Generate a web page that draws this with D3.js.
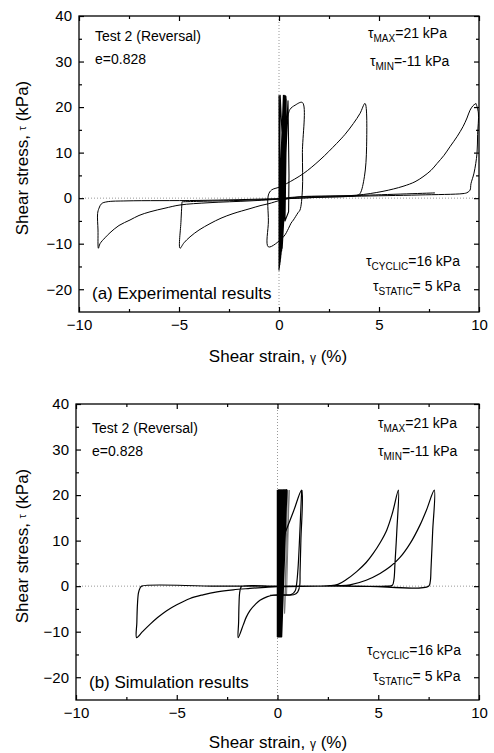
<!DOCTYPE html>
<html>
<head>
<meta charset="utf-8">
<script src="https://cdn.jsdelivr.net/npm/d3@7"></script>
<style>
  body { margin: 0; background: #fff; }
  text { font-family: Arial, "Liberation Sans", sans-serif; fill: #000; }
</style>
</head>
<body>
<svg id="chart" width="494" height="753"></svg>
<script>
// axis ticks
const xTicks = [-10, -5, 0, 5, 10];
const xMinor = [-7.5, -2.5, 2.5, 7.5];
const yTicks = [-20, -10, 0, 10, 20, 30, 40];
const yMinor = [-15, -5, 5, 15, 25, 35];

// (a) experimental: [strain %, stress kPa]
const expBand = [
  [0.00, 22.6], [0.00, -15.8], [0.15, 0], [0.22, 22.6], [0.02, 0], [0.02, -15.2],
  [0.18, 0], [0.26, 22.6], [0.04, 0], [0.04, -14.6], [0.22, 0], [0.30, 22.5],
  [0.06, 0], [0.06, -14.0], [0.26, 0], [0.33, 22.5], [0.08, 0], [0.08, -13.2],
  [0.29, 0], [0.35, 22.3], [0.10, 0], [0.10, -12.4], [0.31, 0], [0.33, 22.0],
  [0.12, 0], [0.13, -11.6], [0.32, 0], [0.36, 21.8], [0.14, 0], [0.16, -11.0],
  [0.30, 0], [0.06, 22.6], [0.03, 0], [0.05, -12.0], [0.25, 5], [0.45, 21.4],
  [0.50, 5], [0.48, -3.0], [0.30, -5.0], [0.35, 10], [0.42, 17.5]
];
const expLoopSmall = [
  [0.42, 17.5], [0.55, 19.5], [0.80, 20.4], [1.17, 21.0], [1.17, 10.0], [1.17, 1.8],
  [1.05, -2.6], [0.95, -3.2], [0.72, -4.8], [0.60, -5.5], [0.47, -6.7], [0.22, -8.5],
  [-0.53, -10.7], [-0.53, -5.0], [-0.53, 0.7], [-0.37, 1.8], [0.00, 2.4], [0.38, 3.2],
  [1.22, 5.4], [2.05, 8.4], [2.88, 12.0], [3.30, 14.0], [3.72, 16.4], [4.05, 18.6],
  [4.30, 20.8], [4.38, 11.3], [4.27, 4.7], [4.05, 1.0], [3.90, 0.6], [2.00, 0.2],
  [0.00, -0.2], [-2.00, -0.5], [-4.00, -0.7], [-4.85, -0.8]
];
const expLoopMid = [
  [-4.85, -0.8], [-4.90, -5.0], [-4.95, -11.0], [-4.75, -9.8], [-4.45, -8.5],
  [-4.00, -7.0], [-3.45, -5.6], [-2.90, -4.4], [-2.30, -3.4], [-1.45, -2.3],
  [-0.90, -1.6], [-0.50, -1.2], [0.05, -0.5], [1.05, 0.3], [2.50, 0.45], [3.90, 0.66],
  [5.20, 1.5], [6.20, 2.6], [6.80, 3.6], [7.20, 4.7], [7.60, 6.1], [7.90, 7.6],
  [8.25, 9.4], [8.55, 11.3], [8.90, 13.5], [9.20, 15.7], [9.40, 17.6], [9.55, 19.3],
  [9.70, 20.3], [9.85, 20.8]
];
const expLoopBig = [
  [9.85, 20.8], [9.97, 18.7], [9.93, 14.0], [9.90, 9.8], [9.75, 5.5], [9.60, 3.2],
  [9.55, 1.75], [9.40, 1.2], [9.20, 1.0], [7.00, 0.7], [3.70, 0.4], [0.00, -0.1],
  [-4.00, -0.5], [-7.60, -0.6], [-8.60, -0.8], [-8.87, -1.2], [-9.00, -2.2],
  [-9.07, -3.4], [-9.05, -7.0], [-9.03, -11.0], [-8.95, -10.0], [-8.70, -8.7],
  [-8.45, -7.6], [-8.00, -6.0], [-7.45, -4.8], [-7.00, -3.8], [-6.45, -3.0],
  [-5.70, -2.2], [-4.95, -1.5], [-3.50, -1.0], [-1.45, -0.6], [0.00, -0.2],
  [0.55, 0.15], [4.00, 0.6], [7.80, 1.15]
];

// (b) simulation
const simBand = [
  [0.00, 21.1], [0.00, -11.1], [0.04, 21.1], [0.01, -11.1], [0.08, 21.1], [0.02, -11.1],
  [0.12, 21.1], [0.03, -11.1], [0.16, 21.1], [0.04, -11.1], [0.20, 21.1], [0.05, -11.1],
  [0.24, 21.1], [0.06, -11.1], [0.28, 21.1], [0.08, -11.1], [0.31, 21.1], [0.09, -11.1],
  [0.34, 21.1], [0.11, -11.1], [0.37, 21.1], [0.12, -11.1], [0.40, 21.1], [0.14, -11.1],
  [0.43, 21.1], [0.16, -11.1], [0.46, 21.1], [0.18, -11.1], [0.46, 21.1], [0.20, -11.1],
  [0.44, 21.1], [0.18, -10.8], [0.40, 21.1], [0.25, 0], [0.37, 11.6]
];
const simGrey = [[0.50, 21.1], [0.35, -6.0], [0.58, 21.1], [0.45, -2.0]];
const simLoopA = [
  [0.37, 11.6], [0.80, 16.5], [1.20, 21.1], [1.16, 10.0], [1.12, 3.0], [1.10, 0.0],
  [1.00, -1.3], [0.80, -1.9], [0.40, -2.0], [-0.20, -2.0], [-0.50, -2.3], [-0.87, -3.1],
  [-1.10, -4.0], [-1.36, -5.3], [-1.55, -6.8], [-1.70, -8.5], [-1.95, -11.3],
  [-1.93, -8.0], [-1.91, -4.0], [-1.88, -1.5], [-1.82, -0.3], [-1.75, 0.0], [0.00, 0.0],
  [2.00, 0.0], [2.60, 0.1], [3.00, 0.4], [3.40, 1.4], [3.93, 3.2], [4.40, 5.2],
  [4.75, 7.2], [5.10, 9.6], [5.42, 12.3], [5.70, 16.0], [6.00, 21.1], [5.92, 12.0],
  [5.83, 5.0], [5.78, 1.5], [5.70, 0.2], [5.40, 0.0], [3.00, 0.0], [-3.00, 0.0],
  [-6.74, 0.0], [-6.82, -0.4], [-6.90, -1.5], [-6.95, -4.0], [-6.98, -8.0],
  [-6.99, -11.3], [-6.70, -10.0], [-6.33, -8.4], [-5.95, -6.9], [-5.50, -5.4],
  [-5.00, -4.1], [-4.34, -2.7], [-3.70, -1.9], [-3.00, -1.25], [-2.20, -0.8],
  [-1.37, -0.5], [-0.60, -0.25], [0.00, -0.1], [2.00, 0.0], [3.00, 0.1], [3.60, 0.3],
  [4.40, 1.3], [5.09, 2.8], [5.60, 4.3], [6.08, 6.3], [6.60, 9.5], [7.07, 13.4],
  [7.40, 16.8], [7.78, 21.1], [7.70, 12.0], [7.62, 4.0], [7.58, 1.0], [7.50, 0.0],
  [4.00, 0.0], [-1.00, 0.0]
];
const simRise = [
  [-0.37, -2.0], [0.20, -1.9], [0.70, -1.8], [0.88, -1.0], [0.95, 0.5], [1.02, 4.0],
  [1.08, 9.0], [1.14, 15.0], [1.20, 21.1]
];

const svg = d3.select("#chart");

function panel(box, series, notes) {
  const g = svg.append("g");
  const x = d3.scaleLinear([-10, 10], [box.left, box.right]);
  const y = d3.scaleLinear([-25, 40], [box.bottom, box.top]);

  // dotted zero lines
  g.append("line")
    .attr("x1", box.left).attr("x2", box.right)
    .attr("y1", y(0)).attr("y2", y(0))
    .attr("stroke", "#999").attr("stroke-dasharray", "1,2");
  g.append("line")
    .attr("x1", x(0)).attr("x2", x(0))
    .attr("y1", box.top).attr("y2", box.bottom)
    .attr("stroke", "#999").attr("stroke-dasharray", "1,2");

  const straight = d3.line().x(d => x(d[0])).y(d => y(d[1]));
  const smooth = d3.line().x(d => x(d[0])).y(d => y(d[1])).curve(d3.curveCatmullRom.alpha(0.5));
  g.append("g")
    .attr("fill", "none")
    .selectAll("path")
    .data(series)
    .join("path")
    .attr("d", d => (d.smooth ? smooth : straight)(d.pts))
    .attr("stroke", d => d.color || "#000")
    .attr("stroke-width", d => d.w || 1)
    .attr("stroke-linejoin", "round");

  // axes, ticks inward on all four sides
  const fmt = d => d3.format("d")(d);
  const axes = [
    [d3.axisBottom(x).tickValues(xTicks).tickSize(-5).tickPadding(7).tickFormat(fmt), `translate(0,${box.bottom})`],
    [d3.axisBottom(x).tickValues(xMinor).tickSize(-3).tickFormat(""), `translate(0,${box.bottom})`],
    [d3.axisTop(x).tickValues(xTicks).tickSize(-5).tickFormat(""), `translate(0,${box.top})`],
    [d3.axisTop(x).tickValues(xMinor).tickSize(-3).tickFormat(""), `translate(0,${box.top})`],
    [d3.axisLeft(y).tickValues(yTicks).tickSize(-5).tickPadding(7).tickFormat(fmt), `translate(${box.left},0)`],
    [d3.axisLeft(y).tickValues(yMinor).tickSize(-3).tickFormat(""), `translate(${box.left},0)`],
    [d3.axisRight(y).tickValues(yTicks).tickSize(-5).tickFormat(""), `translate(${box.right},0)`],
    [d3.axisRight(y).tickValues(yMinor).tickSize(-3).tickFormat(""), `translate(${box.right},0)`]
  ];
  axes.forEach(([ax, tr]) => {
    g.append("g")
      .attr("transform", tr)
      .call(ax)
      .call(a => a.select(".domain").remove())
      .call(a => a.selectAll("line").attr("stroke", "#000").attr("stroke-width", 1.2))
      .call(a => a.selectAll("text").attr("font-size", 15).attr("font-family", "Arial, 'Liberation Sans', sans-serif"));
  });

  g.append("rect")
    .attr("x", box.left).attr("y", box.top)
    .attr("width", box.right - box.left).attr("height", box.bottom - box.top)
    .attr("fill", "none").attr("stroke", "#000").attr("stroke-width", 1.3);

  // axis titles
  const yt = g.append("text")
    .attr("transform", `translate(22,${(box.top + box.bottom) / 2 - 6}) rotate(-90)`)
    .attr("text-anchor", "middle").attr("dominant-baseline", "central")
    .attr("font-size", 17);
  yt.append("tspan").text("Shear stress, ");
  yt.append("tspan").attr("font-size", 11).text("τ");
  yt.append("tspan").text(" (kPa)");

  const xt = g.append("text")
    .attr("x", 278).attr("y", box.bottom + notes.xTitle)
    .attr("text-anchor", "middle").attr("font-size", 17);
  xt.append("tspan").text("Shear strain, ");
  xt.append("tspan").attr("font-size", 12).text("γ");
  xt.append("tspan").text(" (%)");

  // annotations
  g.append("text").attr("x", notes.left).attr("y", notes.test)
    .attr("font-size", 14).text("Test 2 (Reversal)");
  g.append("text").attr("x", notes.left).attr("y", notes.e)
    .attr("font-size", 14).text("e=0.828");
  g.append("text").attr("x", notes.capX).attr("y", notes.capY)
    .attr("font-size", 17).text(notes.caption);

  notes.taus.forEach(t => {
    const tx = g.append("text").attr("x", t.x).attr("y", t.y).attr("font-size", 14);
    tx.append("tspan").text("τ");
    tx.append("tspan").attr("font-size", 10).attr("dy", 4).text(t.sub);
    tx.append("tspan").attr("dy", -4).text(t.rest);
  });
}

panel(
  { left: 79, right: 479, top: 16, bottom: 312 },
  [
    { pts: expBand, w: 1.1 },
    { pts: expLoopSmall, w: 1, smooth: true },
    { pts: expLoopMid, w: 1, smooth: true },
    { pts: expLoopBig, w: 1, smooth: true }
  ],
  {
    xTitle: 50, left: 95, test: 41, e: 64,
    caption: "(a) Experimental results", capX: 92, capY: 299,
    taus: [
      { x: 368, y: 38, sub: "MAX", rest: "=21 kPa" },
      { x: 370, y: 66, sub: "MIN", rest: "=-11 kPa" },
      { x: 366, y: 266, sub: "CYCLIC", rest: "=16 kPa" },
      { x: 373, y: 291, sub: "STATIC", rest: "= 5 kPa" }
    ]
  }
);

panel(
  { left: 76, right: 479, top: 404, bottom: 700 },
  [
    { pts: simGrey, w: 1, color: "#777" },
    { pts: simBand, w: 1.5 },
    { pts: simLoopA, w: 1.2, smooth: true },
    { pts: simRise, w: 1.2, smooth: true }
  ],
  {
    xTitle: 48, left: 92, test: 433, e: 456,
    caption: "(b) Simulation results", capX: 89, capY: 688,
    taus: [
      { x: 378, y: 428, sub: "MAX", rest: "=21 kPa" },
      { x: 378, y: 456, sub: "MIN", rest: "=-11 kPa" },
      { x: 367, y: 655, sub: "CYCLIC", rest: "=16 kPa" },
      { x: 373, y: 681, sub: "STATIC", rest: "= 5 kPa" }
    ]
  }
);
</script>
</body>
</html>
